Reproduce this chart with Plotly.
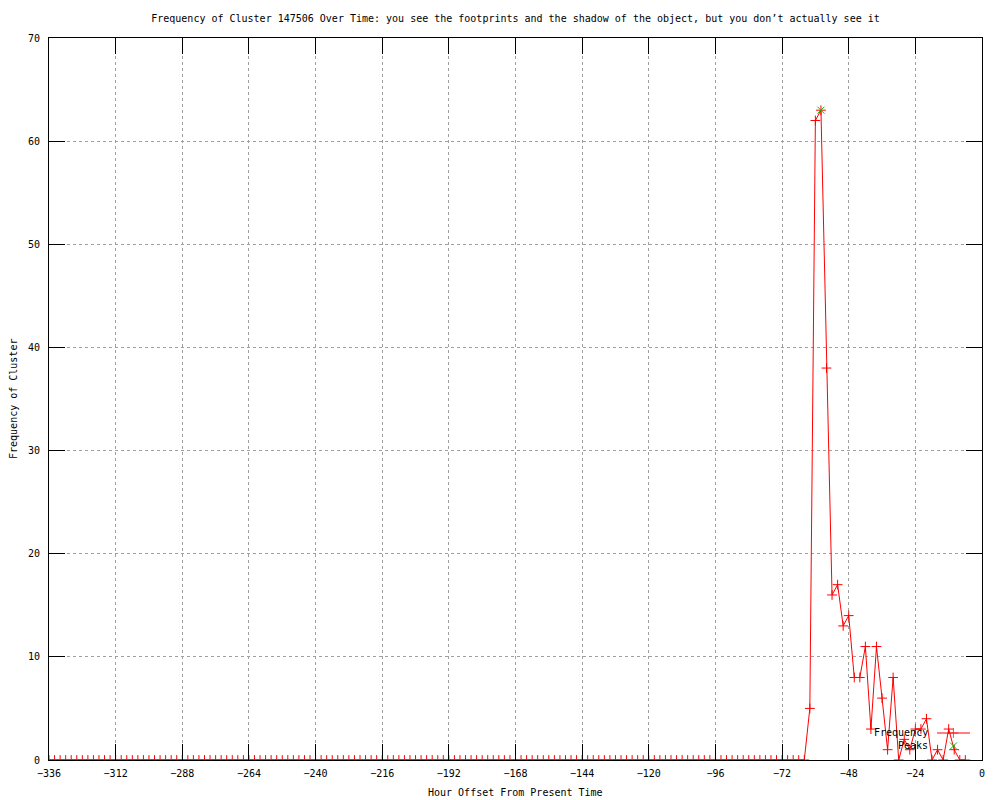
import plotly.graph_objects as go

# ---- data ----
hours = list(range(-336, -4, 2))  # every 2 hours, -336 .. -6

freq_values = [
    0, 0, 0, 0, 0, 0, 0, 0, 0, 0, 0, 0, 0, 0, 0, 0, 0, 0, 0, 0,
    0, 0, 0, 0, 0, 0, 0, 0, 0, 0, 0, 0, 0, 0, 0, 0, 0, 0, 0, 0,
    0, 0, 0, 0, 0, 0, 0, 0, 0, 0, 0, 0, 0, 0, 0, 0, 0, 0, 0, 0,
    0, 0, 0, 0, 0, 0, 0, 0, 0, 0, 0, 0, 0, 0, 0, 0, 0, 0, 0, 0,
    0, 0, 0, 0, 0, 0, 0, 0, 0, 0, 0, 0, 0, 0, 0, 0, 0, 0, 0, 0,
    0, 0, 0, 0, 0, 0, 0, 0, 0, 0, 0, 0, 0, 0, 0, 0, 0, 0, 0, 0,
    0, 0, 0, 0, 0, 0, 0, 0, 0, 0, 0, 0, 0, 0, 0, 0, 0,
    # -62 .. -6
    5, 62, 63, 38, 16, 17, 13, 14, 8, 8, 11, 3, 11, 6, 1, 8, 0,
    2, 1, 3, 3, 4, 0, 1, 0, 3, 1, 0, 0,
]

peak_hours = [-58]
peak_values = [63]

x_ticks = [-336, -312, -288, -264, -240, -216, -192, -168, -144, -120,
           -96, -72, -48, -24, 0]
y_ticks = [0, 10, 20, 30, 40, 50, 60, 70]

title_text = ("Frequency of Cluster 147506 Over Time: you see the footprints "
              "and the shadow of the object, but you don\u2019t actually see it")

FONT = "DejaVu Sans Mono"
RED = "#ff0000"
GREEN = "#00c000"
GRID = "#a0a0a0"

# page body has an 8px margin, so the figure is sized to fill the rest
W, H = 992, 792

fig = go.Figure()

fig.add_trace(go.Scatter(
    x=hours, y=freq_values, mode="lines+markers", name="Frequency",
    line=dict(color=RED, width=1),
    marker=dict(symbol="cross-thin", size=7, line=dict(color=RED, width=1)),
    showlegend=False,
))
fig.add_trace(go.Scatter(
    x=peak_hours, y=peak_values, mode="markers", name="Peaks",
    marker=dict(symbol="x-thin", size=7, line=dict(color=GREEN, width=1)),
    showlegend=False,
))

# ---- legend key (gnuplot style: text then sample) ----
leg_text_x = 0.9443
leg_y1 = 0.0374
leg_y2 = 0.0194
leg_line_x = [0.9518, 0.9694, 0.9871]

fig.add_trace(go.Scatter(
    x=leg_line_x, y=[leg_y1] * 3, mode="lines+markers",
    xaxis="x2", yaxis="y2", showlegend=False, hoverinfo="skip",
    line=dict(color=RED, width=1),
    marker=dict(symbol="cross-thin", size=[0, 7, 0], line=dict(color=RED, width=1)),
))
fig.add_trace(go.Scatter(
    x=[leg_line_x[1]], y=[leg_y2], mode="markers",
    xaxis="x2", yaxis="y2", showlegend=False, hoverinfo="skip",
    marker=dict(symbol="x-thin", size=7, line=dict(color=GREEN, width=1)),
))

axis_common = dict(
    showline=True, linecolor="black", linewidth=1, mirror="ticks",
    ticks="inside", ticklen=16, tickcolor="black", tickwidth=1,
    showgrid=True, gridcolor=GRID, griddash="dot", gridwidth=1,
    zeroline=False, tickfont=dict(family=FONT, size=10, color="black"),
)

fig.update_layout(
    width=W, height=H,
    margin=dict(l=41, r=18, t=30, b=40, autoexpand=False),
    paper_bgcolor="white", plot_bgcolor="white",
    font=dict(family=FONT, size=10, color="black"),
    title=dict(text=title_text, x=0.5, xref="paper", xanchor="center",
               y=1 - 10 / H, yref="container", yanchor="middle",
               font=dict(family=FONT, size=10, color="black")),
    xaxis=dict(range=[-336, 0], tickvals=x_ticks, ticklabelstandoff=4, **axis_common),
    yaxis=dict(range=[0, 70], tickvals=y_ticks, ticklabelstandoff=6, **axis_common),
    xaxis2=dict(range=[0, 1], overlaying="x", visible=False, fixedrange=True),
    yaxis2=dict(range=[0, 1], overlaying="y", visible=False, fixedrange=True),
    annotations=[
        dict(text="Hour Offset From Present Time", xref="paper", yref="paper",
             x=0.5, y=-0.0457, xanchor="center", yanchor="middle",
             showarrow=False, font=dict(family=FONT, size=10, color="black")),
        dict(text="Frequency of Cluster", xref="paper", yref="paper",
             x=-0.0386, y=0.5, xanchor="center", yanchor="middle", textangle=-90,
             showarrow=False, font=dict(family=FONT, size=10, color="black")),
        dict(text="Frequency", xref="paper", yref="paper",
             x=leg_text_x, y=leg_y1, xanchor="right", yanchor="middle",
             showarrow=False, font=dict(family=FONT, size=10, color="black")),
        dict(text="Peaks", xref="paper", yref="paper",
             x=leg_text_x, y=leg_y2, xanchor="right", yanchor="middle",
             showarrow=False, font=dict(family=FONT, size=10, color="black")),
    ],
)

fig.write_html("out.html")
